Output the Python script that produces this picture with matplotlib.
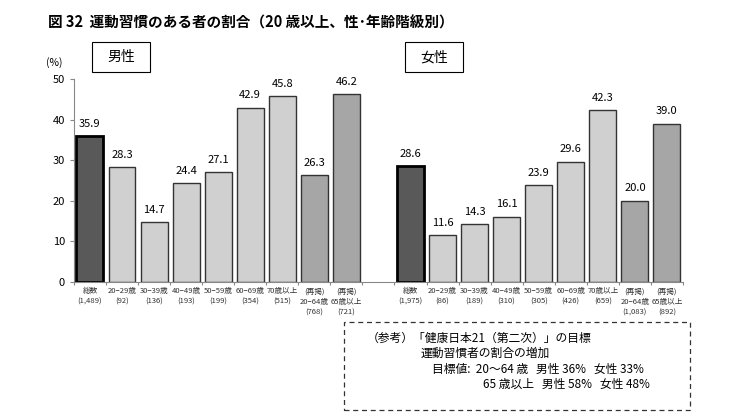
import matplotlib.pyplot as plt
from matplotlib.patches import Rectangle

plt.rcParams['font.family'] = ['Noto Sans CJK JP', 'DejaVu Sans']

male = [35.9, 28.3, 14.7, 24.4, 27.1, 42.9, 45.8, 26.3, 46.2]
female = [28.6, 11.6, 14.3, 16.1, 23.9, 29.6, 42.3, 20.0, 39.0]
male_n = ['1,489', '92', '136', '193', '199', '354', '515', '768', '721']
female_n = ['1,975', '86', '189', '310', '305', '426', '659', '1,083', '892']
groups = ['総数', '20−29歳', '30−39歳', '40−49歳', '50−59歳', '60−69歳', '70歳以上',
          '(再掲)\n20−64歳', '(再掲)\n65歳以上']

def bar_style(i):
    if i == 0:
        return '#595959', 'black', 2.0
    if i >= 7:
        return '#a6a6a6', '#333333', 1.0
    return '#d0d0d0', '#333333', 1.0

fig = plt.figure(figsize=(7.32, 4.17), dpi=100)
ax = fig.add_axes([0.101, 0.3237, 0.832, 0.487])

for vals, ns, start in [(male, male_n, 0), (female, female_n, 10)]:
    for i, v in enumerate(vals):
        x = start + i
        fc, ec, lw = bar_style(i)
        ax.bar(x, v, width=0.84, color=fc, edgecolor=ec, linewidth=lw, zorder=2)
        ax.text(x, v + 1.8, f'{v:.1f}', ha='center', va='bottom', fontsize=8)
        ax.text(x, -1.3, f'{groups[i]}\n({ns[i]})', ha='center', va='top',
                fontsize=5.5, color='#333333', linespacing=1.4)

ax.set_xlim(-0.5, 18.5)
ax.set_ylim(0, 50)
ax.set_yticks([0, 10, 20, 30, 40, 50])
ax.tick_params(axis='y', labelsize=8, length=3, color='#888888')
ax.set_xticks([i - 0.5 for i in range(20)])
ax.set_xticklabels([])
ax.tick_params(axis='x', length=2, color='#888888')
for s in ['top', 'right']:
    ax.spines[s].set_visible(False)
ax.spines['left'].set_color('#888888')
ax.spines['bottom'].set_color('#888888')

fig.text(0.066, 0.945, '図 32  運動習慣のある者の割合（20 歳以上、性･年齢階級別）',
         fontsize=10.5, fontweight='bold', va='center')
fig.text(0.074, 0.851, '(%)', fontsize=7.5, ha='center', va='center')

for x0, label in [(0.1257, '男性'), (0.553, '女性')]:
    fig.patches.append(Rectangle((x0, 0.827), 0.079, 0.072, transform=fig.transFigure,
                                 facecolor='white', edgecolor='black', linewidth=0.8))
    fig.text(x0 + 0.0395, 0.863, label, fontsize=10, ha='center', va='center')

# dashed reference box
box = Rectangle((0.470, 0.017), 0.473, 0.211, transform=fig.transFigure,
                facecolor='none', edgecolor='#333333', linewidth=0.9)
box.set_linestyle((0, (4, 3)))
fig.add_artist(box)
fig.text(0.501, 0.189, '（参考）「健康日本21（第二次）」の目標', fontsize=8.5, va='center')
fig.text(0.574, 0.153, '運動習慣者の割合の増加', fontsize=8.5, va='center')
fig.text(0.590, 0.115, '目標値:  20〜64 歳   男性 36%   女性 33%', fontsize=8.5, va='center')
fig.text(0.660, 0.079, '65 歳以上   男性 58%   女性 48%', fontsize=8.5, va='center')

fig.savefig('out.png', dpi=100)
